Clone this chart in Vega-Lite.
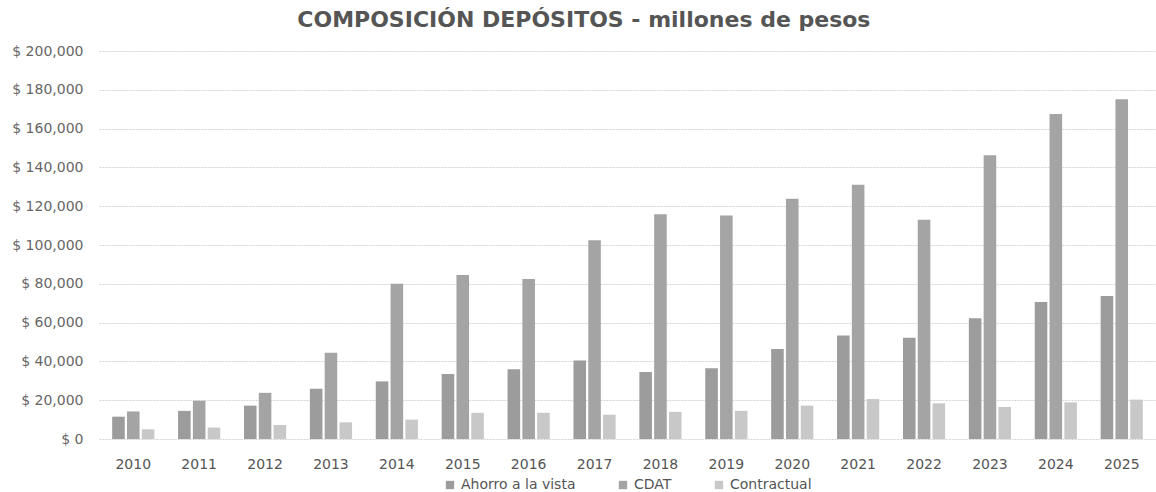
{
  "$schema": "https://vega.github.io/schema/vega-lite/v6.json",
  "width": 1156,
  "height": 492,
  "autosize": {"type": "fit", "contains": "padding"},
  "padding": {"left": 11, "right": 0, "top": 9, "bottom": 0},
  "background": "white",
  "title": {
    "text": "COMPOSICIÓN DEPÓSITOS - millones de pesos",
    "font": "DejaVu Sans",
    "fontSize": 22,
    "fontWeight": "bold",
    "color": "#555555",
    "anchor": "middle",
    "frame": "bounds",
    "offset": 12
  },
  "data": {
    "values": [
      {"year": "2010", "tipo": "Ahorro a la vista", "valor": 11500},
      {"year": "2010", "tipo": "CDAT", "valor": 14200},
      {"year": "2010", "tipo": "Contractual", "valor": 5000},
      {"year": "2011", "tipo": "Ahorro a la vista", "valor": 14500},
      {"year": "2011", "tipo": "CDAT", "valor": 19700},
      {"year": "2011", "tipo": "Contractual", "valor": 5900},
      {"year": "2012", "tipo": "Ahorro a la vista", "valor": 17200},
      {"year": "2012", "tipo": "CDAT", "valor": 23800},
      {"year": "2012", "tipo": "Contractual", "valor": 7200},
      {"year": "2013", "tipo": "Ahorro a la vista", "valor": 25900},
      {"year": "2013", "tipo": "CDAT", "valor": 44500},
      {"year": "2013", "tipo": "Contractual", "valor": 8600},
      {"year": "2014", "tipo": "Ahorro a la vista", "valor": 29700},
      {"year": "2014", "tipo": "CDAT", "valor": 80000},
      {"year": "2014", "tipo": "Contractual", "valor": 10000},
      {"year": "2015", "tipo": "Ahorro a la vista", "valor": 33500},
      {"year": "2015", "tipo": "CDAT", "valor": 84500},
      {"year": "2015", "tipo": "Contractual", "valor": 13500},
      {"year": "2016", "tipo": "Ahorro a la vista", "valor": 36000},
      {"year": "2016", "tipo": "CDAT", "valor": 82500},
      {"year": "2016", "tipo": "Contractual", "valor": 13500},
      {"year": "2017", "tipo": "Ahorro a la vista", "valor": 40500},
      {"year": "2017", "tipo": "CDAT", "valor": 102500},
      {"year": "2017", "tipo": "Contractual", "valor": 12500},
      {"year": "2018", "tipo": "Ahorro a la vista", "valor": 34500},
      {"year": "2018", "tipo": "CDAT", "valor": 115800},
      {"year": "2018", "tipo": "Contractual", "valor": 14000},
      {"year": "2019", "tipo": "Ahorro a la vista", "valor": 36500},
      {"year": "2019", "tipo": "CDAT", "valor": 115200},
      {"year": "2019", "tipo": "Contractual", "valor": 14500},
      {"year": "2020", "tipo": "Ahorro a la vista", "valor": 46400},
      {"year": "2020", "tipo": "CDAT", "valor": 123800},
      {"year": "2020", "tipo": "Contractual", "valor": 17200},
      {"year": "2021", "tipo": "Ahorro a la vista", "valor": 53400},
      {"year": "2021", "tipo": "CDAT", "valor": 131000},
      {"year": "2021", "tipo": "Contractual", "valor": 20600},
      {"year": "2022", "tipo": "Ahorro a la vista", "valor": 52200},
      {"year": "2022", "tipo": "CDAT", "valor": 113000},
      {"year": "2022", "tipo": "Contractual", "valor": 18400},
      {"year": "2023", "tipo": "Ahorro a la vista", "valor": 62200},
      {"year": "2023", "tipo": "CDAT", "valor": 146200},
      {"year": "2023", "tipo": "Contractual", "valor": 16500},
      {"year": "2024", "tipo": "Ahorro a la vista", "valor": 70600},
      {"year": "2024", "tipo": "CDAT", "valor": 167500},
      {"year": "2024", "tipo": "Contractual", "valor": 18900},
      {"year": "2025", "tipo": "Ahorro a la vista", "valor": 73700},
      {"year": "2025", "tipo": "CDAT", "valor": 175100},
      {"year": "2025", "tipo": "Contractual", "valor": 20300}
    ]
  },
  "mark": {"type": "bar"},
  "encoding": {
    "x": {
      "field": "year",
      "type": "nominal",
      "title": null,
      "scale": {"paddingInner": 0.36, "paddingOuter": 0.2},
      "axis": {
        "labelAngle": 0,
        "labelFont": "DejaVu Sans",
        "labelFontSize": 14,
        "labelColor": "#555555",
        "labelPadding": 18,
        "domain": false,
        "ticks": false,
        "grid": false
      }
    },
    "xOffset": {
      "field": "tipo",
      "type": "nominal",
      "scale": {"paddingInner": 0.15},
      "sort": ["Ahorro a la vista", "CDAT", "Contractual"]
    },
    "y": {
      "field": "valor",
      "type": "quantitative",
      "title": null,
      "scale": {"domain": [0, 200000]},
      "axis": {
        "values": [0, 20000, 40000, 60000, 80000, 100000, 120000, 140000, 160000, 180000, 200000],
        "labelExpr": "'$ ' + format(datum.value, ',')",
        "labelFont": "DejaVu Sans",
        "labelFontSize": 14,
        "labelColor": "#666666",
        "labelPadding": 16,
        "domain": false,
        "ticks": false,
        "grid": true,
        "gridColor": "#d4d4d4",
        "gridDash": [2, 1],
        "gridWidth": 1
      }
    },
    "color": {
      "field": "tipo",
      "type": "nominal",
      "sort": ["Ahorro a la vista", "CDAT", "Contractual"],
      "scale": {
        "domain": ["Ahorro a la vista", "CDAT", "Contractual"],
        "range": ["#9c9c9c", "#a4a4a4", "#c8c8c8"]
      },
      "legend": {
        "title": null,
        "orient": "bottom",
        "direction": "horizontal",
        "symbolType": "square",
        "symbolSize": 70,
        "labelFont": "DejaVu Sans",
        "labelFontSize": 14,
        "labelColor": "#555555",
        "columnPadding": 40,
        "offset": 7
      }
    }
  },
  "config": {
    "view": {"stroke": null},
    "legend": {"layout": {"bottom": {"anchor": "middle"}}}
  }
}
